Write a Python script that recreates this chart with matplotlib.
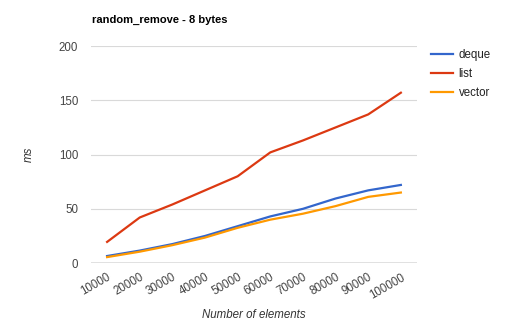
import matplotlib.pyplot as plt

sizes = ['10000', '20000', '30000', '40000', '50000', '60000', '70000', '80000', '90000', '100000']
deque = [6.5, 11.5, 17.5, 25, 34, 43, 50, 59.5, 67, 72]
list_ms = [19.5, 42, 54, 67, 80, 102, 113, 125, 137, 157]
vector = [5.5, 10.5, 16.5, 23.5, 32.5, 40, 45.5, 52.5, 61, 65]

plt.rcParams['font.family'] = ['Liberation Sans', 'DejaVu Sans']

fig = plt.figure(figsize=(5.1, 3.22), dpi=100)
ax = fig.add_axes([0.178, 0.183, 0.64, 0.674])

x = range(len(sizes))
ax.plot(x, deque, color='#3366cc', lw=1.6, label='deque')
ax.plot(x, list_ms, color='#dc3912', lw=1.6, label='list')
ax.plot(x, vector, color='#ff9900', lw=1.6, label='vector')

ax.set_xlim(-0.5, len(sizes) - 0.5)
ax.set_ylim(0, 200)
ax.set_yticks([0, 50, 100, 150, 200])
ax.yaxis.grid(True, color='#d9d9d9', lw=0.8)
ax.set_axisbelow(True)
ax.axhline(0, color='#777777', lw=1.0)
for s in ax.spines.values():
    s.set_visible(False)
ax.tick_params(length=0, colors='#444444', labelsize=8.3)
ax.tick_params(axis='y', pad=9)
ax.tick_params(axis='x', pad=6)
ax.set_xticks(list(x))
ax.set_xticklabels(sizes, rotation=30, ha='right', rotation_mode='anchor')

fig.text(0.498, 0.022, 'Number of elements', style='italic', color='#333333',
         fontsize=8.3, ha='center', va='center')
ax.set_ylabel('ms', style='italic', color='#333333', fontsize=8.3, labelpad=17)
fig.text(0.18, 0.93, 'random_remove - 8 bytes', fontsize=8, fontweight='bold', color='#000000')

ax.legend(loc='upper left', bbox_to_anchor=(1.01, 1.035), frameon=False, fontsize=8.3,
          handlelength=1.9, handletextpad=0.5, labelspacing=0.6, labelcolor='#222222')

fig.savefig('out.png', dpi=100, facecolor='white')
